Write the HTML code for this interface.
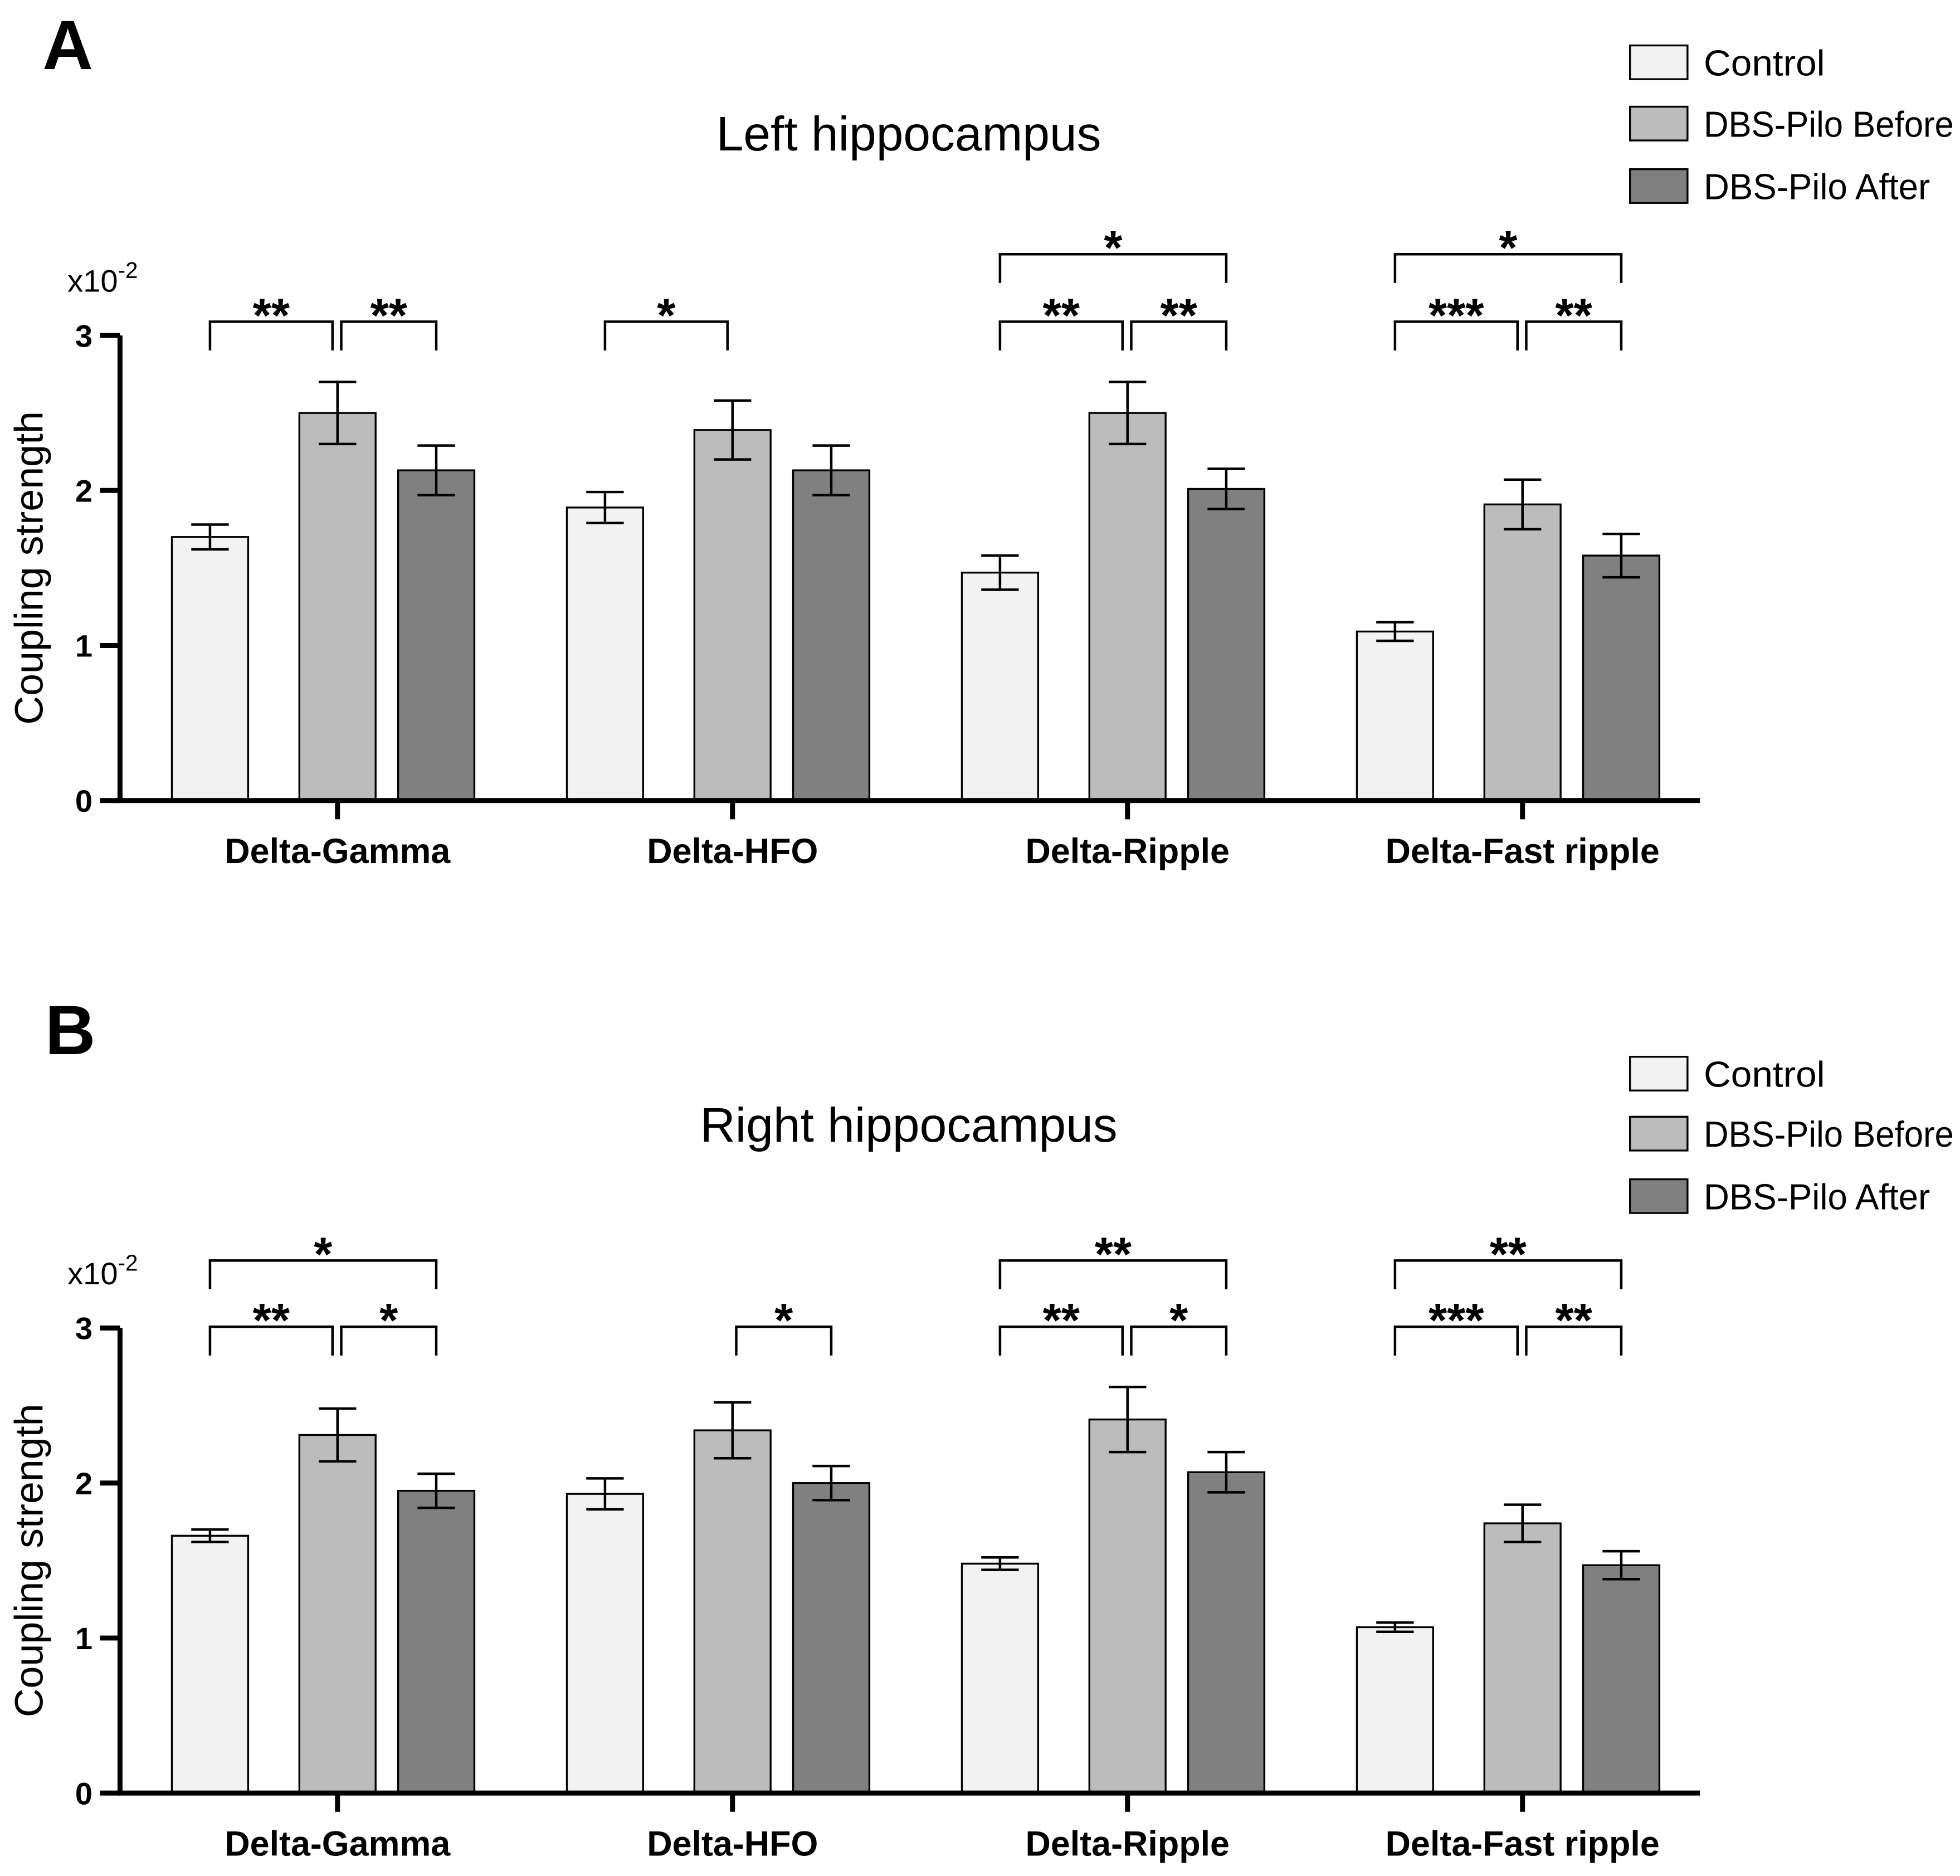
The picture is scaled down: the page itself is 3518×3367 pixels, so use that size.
<!DOCTYPE html>
<html><head><meta charset="utf-8"><style>html,body{margin:0;padding:0;background:#fff}svg{display:block}text{font-family:"Liberation Sans",sans-serif}</style></head>
<body>
<svg id="chart" width="3518" height="3367" viewBox="0 0 1568 1500" xmlns="http://www.w3.org/2000/svg"></svg>
<script>
const categories = ["Delta-Gamma","Delta-HFO","Delta-Ripple","Delta-Fast ripple"];
const seriesNames = ["Control","DBS-Pilo Before","DBS-Pilo After"];
const leftControl = [1.70,1.89,1.47,1.09];
const leftControlErr = [0.08,0.10,0.11,0.06];
const leftBefore = [2.50,2.39,2.50,1.91];
const leftBeforeErr = [0.20,0.19,0.20,0.16];
const leftAfter = [2.13,2.13,2.01,1.58];
const leftAfterErr = [0.16,0.16,0.13,0.14];
const rightControl = [1.66,1.93,1.48,1.07];
const rightControlErr = [0.04,0.10,0.04,0.03];
const rightBefore = [2.31,2.34,2.41,1.74];
const rightBeforeErr = [0.17,0.18,0.21,0.12];
const rightAfter = [1.95,2.00,2.07,1.47];
const rightAfterErr = [0.11,0.11,0.13,0.09];
const yTicks = [0,1,2,3];
const colors = ["#f2f2f2","#bcbcbc","#808080"];
const legendWidths = [97,200,181];
const leftSig = [[0,0,1,0,"**"],[0,1,2,0,"**"],[1,0,1,0,"*"],[2,0,1,0,"**"],[2,1,2,0,"**"],[2,0,2,1,"*"],[3,0,1,0,"***"],[3,1,2,0,"**"],[3,0,2,1,"*"]];
const rightSig = [[0,0,1,0,"**"],[0,1,2,0,"*"],[0,0,2,1,"*"],[1,1,2,0,"*"],[2,0,1,0,"**"],[2,1,2,0,"*"],[2,0,2,1,"**"],[3,0,1,0,"***"],[3,1,2,0,"**"],[3,0,2,1,"**"]];

const svg = document.getElementById('chart');
const NS = "http://www.w3.org/2000/svg";
function mk(tag, attrs, parent){const e=document.createElementNS(NS,tag);for(const k in attrs)e.setAttribute(k,attrs[k]);(parent||svg).appendChild(e);return e;}
const groupCenters0 = 270, groupStep = 316;
const barOffsets = [-102,0,79], barW = 61;

function panel(opts){
  const g = mk('g',{});
  
  
  const y0 = opts.y0, unit = 124;
  const yS = v => y0 - v*unit;
  const xC = i => groupCenters0 + i*groupStep;
  const L = mk('text',{x:opts.letterX,y:opts.letterY,'font-size':56,'font-weight':'bold'},g); L.textContent=opts.letter;
   
  const T = mk('text',{x:727,y:opts.titleY,'font-size':39,'text-anchor':'middle'},g); T.textContent=opts.title;
   
  for(let s=0;s<3;s++){
    const ly = opts.legendY[s];
    const r = mk('rect',{x:1304,y:ly,width:46,height:27,fill:colors[s],stroke:'#000','stroke-width':1.5},g);
     
    const t = mk('text',{x:1363,y:ly+24,'font-size':29,textLength:legendWidths[s],lengthAdjust:'spacingAndGlyphs'},g); t.textContent=seriesNames[s];
     
  }
  const vals=[opts.c,opts.b,opts.a], errs=[opts.ce,opts.be,opts.ae];
  for(let i=0;i<categories.length;i++){
    for(let s=0;s<3;s++){
      const cx = xC(i)+barOffsets[s];
      const r = mk('rect',{x:cx-barW/2,y:yS(vals[s][i]),width:barW,height:yS(0)-yS(vals[s][i]),fill:colors[s],stroke:'#000','stroke-width':1.5},g);
       
      const hi=yS(vals[s][i]+errs[s][i]), lo=yS(vals[s][i]-errs[s][i]);
      const e = mk('path',{d:`M${cx},${hi}V${lo}M${cx-15},${hi}H${cx+15}M${cx-15},${lo}H${cx+15}`,stroke:'#000','stroke-width':2,fill:'none'},g);
       
    }
    const tk = mk('line',{x1:xC(i),x2:xC(i),y1:y0,y2:y0+15,stroke:'#000','stroke-width':4},g);
     
    const lb = mk('text',{x:xC(i),y:y0+50,'font-size':28,'font-weight':'bold','text-anchor':'middle'},g); lb.textContent=categories[i];
     
  }
  const ax = mk('path',{d:`M96,${yS(3)}V${y0}H1360`,stroke:'#000','stroke-width':4,fill:'none'},g);
   
  yTicks.forEach(v=>{
    const l = mk('line',{x1:80,x2:96,y1:yS(v),y2:yS(v),stroke:'#000','stroke-width':4},g);
     
    const t = mk('text',{x:74,y:yS(v)+9,'font-size':25,'font-weight':'bold','text-anchor':'end'},g); t.textContent=v;
     
  });
  const ex = mk('text',{x:54,y:yS(3)-35,'font-size':25},g);
  ex.innerHTML = 'x10<tspan dy="-11" font-size="18">-2</tspan>';
   
  const yt = mk('text',{x:0,y:0,'font-size':32,'text-anchor':'middle',transform:`translate(34,${y0-186}) rotate(-90)`},g);
  yt.textContent='Coupling strength';
   
  opts.sig.forEach(sg=>{
    const [i,f,t,lvl,lab]=sg;
    let x1 = xC(i)+barOffsets[f], x2 = xC(i)+barOffsets[t];
    if(lvl===0){ if(f===0) x2-=4; if(f===1) x1+=3; }
    const top = lvl===0 ? opts.sigY0 : opts.sigY1;
    const p = mk('path',{d:`M${x1},${top+23}V${top}H${x2}V${top+23}`,stroke:'#000','stroke-width':2,fill:'none'},g);
     
    const st = mk('text',{x:(x1+x2)/2,y:top+8,'font-size':38,'font-weight':'bold','text-anchor':'middle'},g); st.textContent=lab;
     
  });
}
panel({name:'panel-a-left',letter:'A',letterX:34,letterY:55,title:'Left hippocampus',titleY:120,legendY:[36,85,135],y0:640,
  c:leftControl,ce:leftControlErr,b:leftBefore,be:leftBeforeErr,a:leftAfter,ae:leftAfterErr,sig:leftSig,sigY0:257,sigY1:203});
panel({name:'panel-b-right',letter:'B',letterX:36,letterY:843,title:'Right hippocampus',titleY:913,legendY:[845,893,943],y0:1434,
  c:rightControl,ce:rightControlErr,b:rightBefore,be:rightBeforeErr,a:rightAfter,ae:rightAfterErr,sig:rightSig,sigY0:1061,sigY1:1008});
</script>
</body></html>
